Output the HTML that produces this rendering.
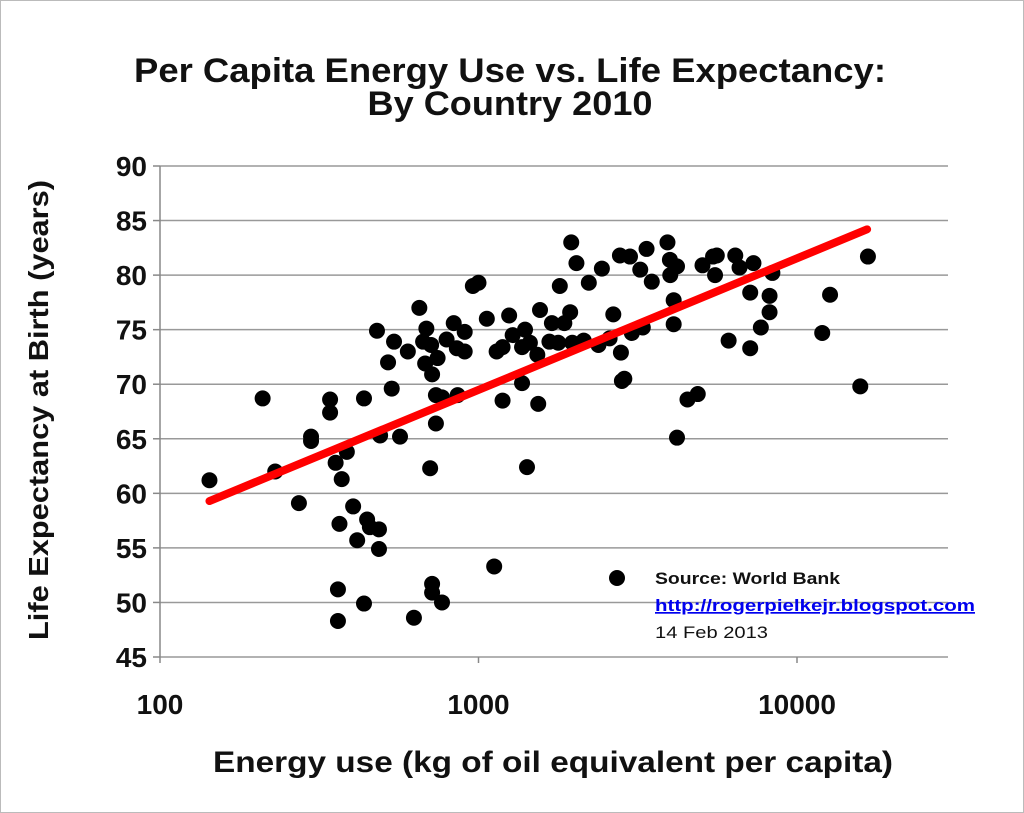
<!DOCTYPE html>
<html><head><meta charset="utf-8"><style>
html,body{margin:0;padding:0;background:#fff;}
svg{display:block;font-family:"Liberation Sans",Arial,sans-serif;}
</style></head><body>
<svg id="chart" width="1024" height="813" viewBox="0 0 1024 813">
<rect x="0.5" y="0.5" width="1023" height="812" fill="#fff" stroke="#bbb"/>
<text x="510" y="82" text-anchor="middle" font-size="34" font-weight="bold" fill="#111" textLength="752" lengthAdjust="spacingAndGlyphs">Per Capita Energy Use vs. Life Expectancy:</text>
<text x="510" y="115" text-anchor="middle" font-size="34" font-weight="bold" fill="#111" textLength="285" lengthAdjust="spacingAndGlyphs">By Country 2010</text>
<g id="grid"></g><g id="axes"></g><g id="marks"></g>
<text transform="translate(48,410) rotate(-90)" text-anchor="middle" font-size="28" font-weight="bold" fill="#111" textLength="460" lengthAdjust="spacingAndGlyphs">Life Expectancy at Birth (years)</text>
<text x="553" y="772" text-anchor="middle" font-size="30" font-weight="bold" fill="#111" textLength="680" lengthAdjust="spacingAndGlyphs">Energy use (kg of oil equivalent per capita)</text>
<circle cx="617" cy="578" r="8" fill="#000"/>
<text x="655" y="584" font-size="17" font-weight="bold" fill="#111" textLength="185" lengthAdjust="spacingAndGlyphs">Source: World Bank</text>
<text x="655" y="611" font-size="17" font-weight="bold" fill="#0000ee" text-decoration="underline" textLength="320" lengthAdjust="spacingAndGlyphs">http://rogerpielkejr.blogspot.com</text>
<text x="655" y="638" font-size="17" fill="#111" textLength="113" lengthAdjust="spacingAndGlyphs">14 Feb 2013</text>
</svg>
<script>
const energy=[143,210,230,273,298,298,342,342,356,386,372,404,366,416,447,456,487,487,362,362,437,627,715,715,768,437,534,491,567,705,735,735,768,860,480,520,543,600,652,686,670,710,680,715,744,794,836,905,855,905,960,1000,1120,
1955,2030,1800,2220,2440,1062,1248,1560,1940,1700,1860,1280,1400,1370,1450,1140,1190,1530,1670,1780,1970,2140,2380,2580,2650,2800,2870,2820,3030,3280,1190,1370,1540,1420,2780,2990,3370,3220,3500,3920,3990,4200,4000,4100,4100,4200,4530,4880,5050,5450,5530,
5600,6400,6600,7300,8370,7130,8200,8200,7700,6100,7130,12700,12000,16700,15800];
const lifeExp=[61.2,68.7,62.0,59.1,65.2,64.8,68.6,67.4,62.8,63.8,61.3,58.8,57.2,55.7,57.6,56.9,56.7,54.9,51.2,48.3,49.9,48.6,51.7,50.9,50.0,68.7,69.6,65.3,65.2,62.3,66.4,69.0,68.8,69.0,74.9,72.0,73.9,73.0,77.0,75.1,73.9,73.6,71.9,70.9,72.4,74.1,75.6,74.8,73.3,73.0,79.0,79.3,53.3,
83.0,81.1,79.0,79.3,80.6,76.0,76.3,76.8,76.6,75.6,75.6,74.5,75.0,73.4,73.8,73.0,73.4,72.7,73.9,73.8,73.8,74.0,73.6,74.2,76.4,72.9,70.5,70.3,74.7,75.2,68.5,70.1,68.2,62.4,81.8,81.7,82.4,80.5,79.4,83.0,81.4,80.8,80.0,77.7,75.5,65.1,68.6,69.1,80.9,81.7,80.0,
81.8,81.8,80.7,81.1,80.2,78.4,78.1,76.6,75.2,74.0,73.3,78.2,74.7,81.7,69.8];
const trendRange=[143,16600];
const trendIntercept=33.3, trendSlope=12.06;
const yTicks=[45,50,55,60,65,70,75,80,85,90];
const xTicks=[100,1000,10000];

const NS='http://www.w3.org/2000/svg';
const L=160,R=948,T=166,B=657;
const xs=v=>L+(Math.log10(v)-2)*318.5;
const ys=v=>B-(v-45)/45*(B-T);
function mk(tag,attrs,parent){const e=document.createElementNS(NS,tag);for(const k in attrs)e.setAttribute(k,attrs[k]);parent.appendChild(e);return e;}
const grid=document.getElementById('grid'),axes=document.getElementById('axes'),marks=document.getElementById('marks');
yTicks.forEach(t=>{
  const g=mk('line',{x1:L,x2:R,y1:ys(t),y2:ys(t),stroke:'#999','stroke-width':1.5},grid);
  
  
  const tk=mk('line',{x1:L-7,x2:L,y1:ys(t),y2:ys(t),stroke:'#888','stroke-width':1.5},axes);
  
  
  const tx=mk('text',{x:L-13,y:ys(t)+10,'text-anchor':'end','font-size':28,'font-weight':'bold',fill:'#111'},axes);
  tx.textContent=t;
  
  
});
const ya=mk('line',{x1:L,x2:L,y1:T,y2:B,stroke:'#888','stroke-width':1.5},axes);


xTicks.forEach(t=>{
  const tk=mk('line',{x1:xs(t),x2:xs(t),y1:B,y2:B+6,stroke:'#888','stroke-width':1.5},axes);
  
  
  const tx=mk('text',{x:xs(t),y:B+57,'text-anchor':'middle','font-size':28,'font-weight':'bold',fill:'#111'},axes);
  tx.textContent=t;
  
  
});
energy.forEach((e,i)=>{
  const c=mk('circle',{cx:xs(e),cy:ys(lifeExp[i]),r:8,fill:'#000'},marks);
  
  
});
const tl=v=>trendIntercept+trendSlope*Math.log10(v);
const line=mk('line',{x1:xs(trendRange[0]),y1:ys(tl(trendRange[0])),x2:xs(trendRange[1]),y2:ys(tl(trendRange[1])),stroke:'#f00','stroke-width':8,'stroke-linecap':'round'},marks);


</script>
</body></html>
